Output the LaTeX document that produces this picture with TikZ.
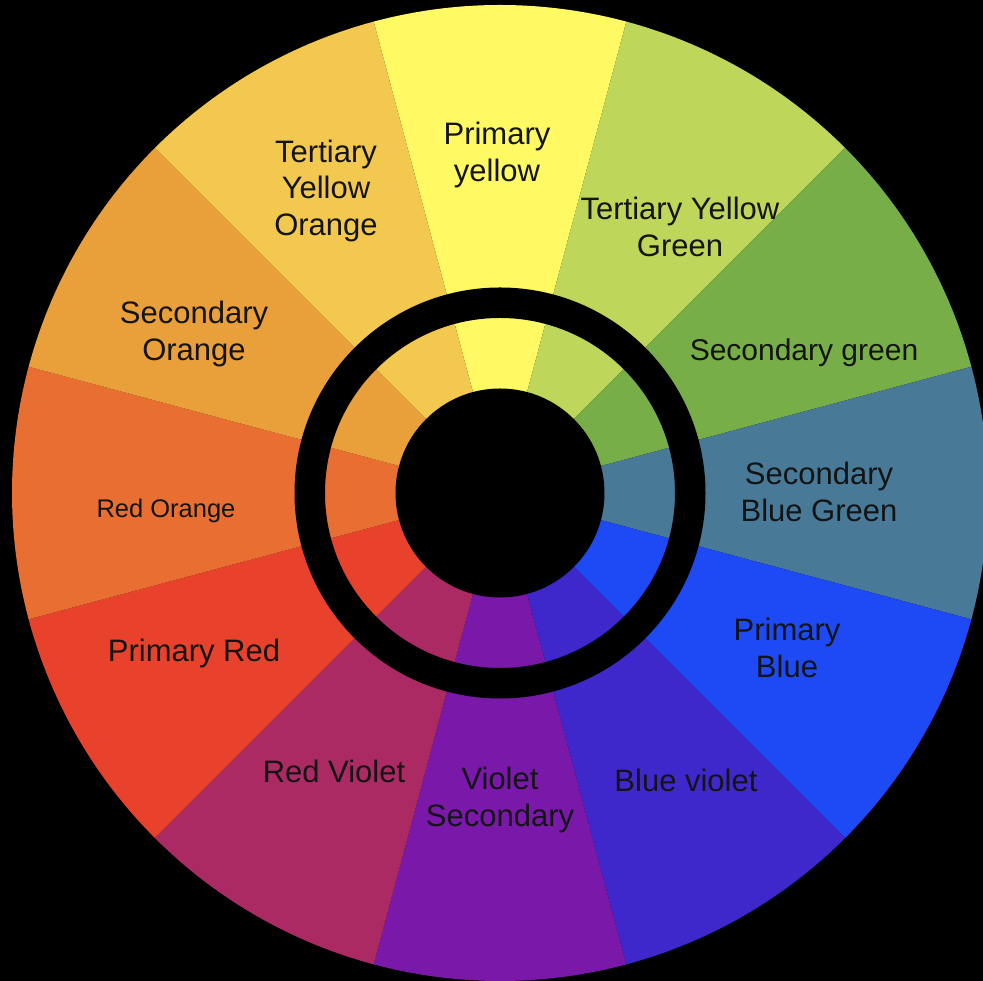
\documentclass[tikz,border=0pt]{standalone}
\usepackage{fontspec}
\setmainfont{Liberation Sans}
\definecolor{cYel}{HTML}{FFFA64}
\definecolor{cYelGr}{HTML}{BED65A}
\definecolor{cGr}{HTML}{78AE48}
\definecolor{cBlGr}{HTML}{487A98}
\definecolor{cBl}{HTML}{1E4AF6}
\definecolor{cBlVi}{HTML}{3E28CC}
\definecolor{cVi}{HTML}{7A18AA}
\definecolor{cRdVi}{HTML}{AC2A64}
\definecolor{cRd}{HTML}{E8422C}
\definecolor{cRdOr}{HTML}{E96E32}
\definecolor{cOr}{HTML}{EAA03A}
\definecolor{cYelOr}{HTML}{F2C84E}
\definecolor{txt}{HTML}{141414}
\tikzset{
  lbl/.style={align=center, inner sep=0pt, text=txt, font=\fontsize{31}{36.5}\selectfont},
  lblsmall/.style={lbl, font=\fontsize{25.5}{30}\selectfont},
  lblmid/.style={lbl, font=\fontsize{30}{35}\selectfont}
}
\begin{document}
\begin{tikzpicture}[x=1pt,y=1pt]
\useasboundingbox (0,0) rectangle (983,981);
\fill[black] (0,0) rectangle (983,981);
\begin{scope}
\clip (0,0) rectangle (983,981);
\coordinate (C) at (500,488);
\def\R{488}
\foreach \a/\c in {90/cYel,60/cYelGr,30/cGr,0/cBlGr,-30/cBl,-60/cBlVi,-90/cVi,-120/cRdVi,-150/cRd,180/cRdOr,150/cOr,120/cYelOr}{
  \fill[\c] (C) -- ++(\a-15:\R) arc[start angle=\a-15, end angle=\a+15, radius=\R] -- cycle;
}
\draw[black, line width=30.5pt] (C) circle[radius=190.25];
\fill[black] (C) circle[radius=104.5];
\end{scope}
\node[lbl] (yel) at (497,826) {Primary\\yellow};
\node[lbl] (yelor) at (326,790) {Tertiary\\Yellow\\Orange};
\node[lbl] (yelgr) at (680,754) {Tertiary Yellow\\Green};
\node[lblmid] (gr) at (804,628) {Secondary green};
\node[lbl] (blgr) at (819,489) {Secondary\\Blue Green};
\node[lbl] (bl) at (787,333) {Primary\\Blue};
\node[lbl] (blvi) at (686,201) {Blue violet};
\node[lbl] (vi) at (500,181) {Violet\\Secondary};
\node[lbl] (rdvi) at (334,210) {Red Violet};
\node[lbl] (rd) at (194,328) {Primary Red};
\node[lblsmall] (rdor) at (166,470) {Red Orange};
\node[lbl] (or) at (194,647) {Secondary\\Orange};
\end{tikzpicture}
\end{document}
